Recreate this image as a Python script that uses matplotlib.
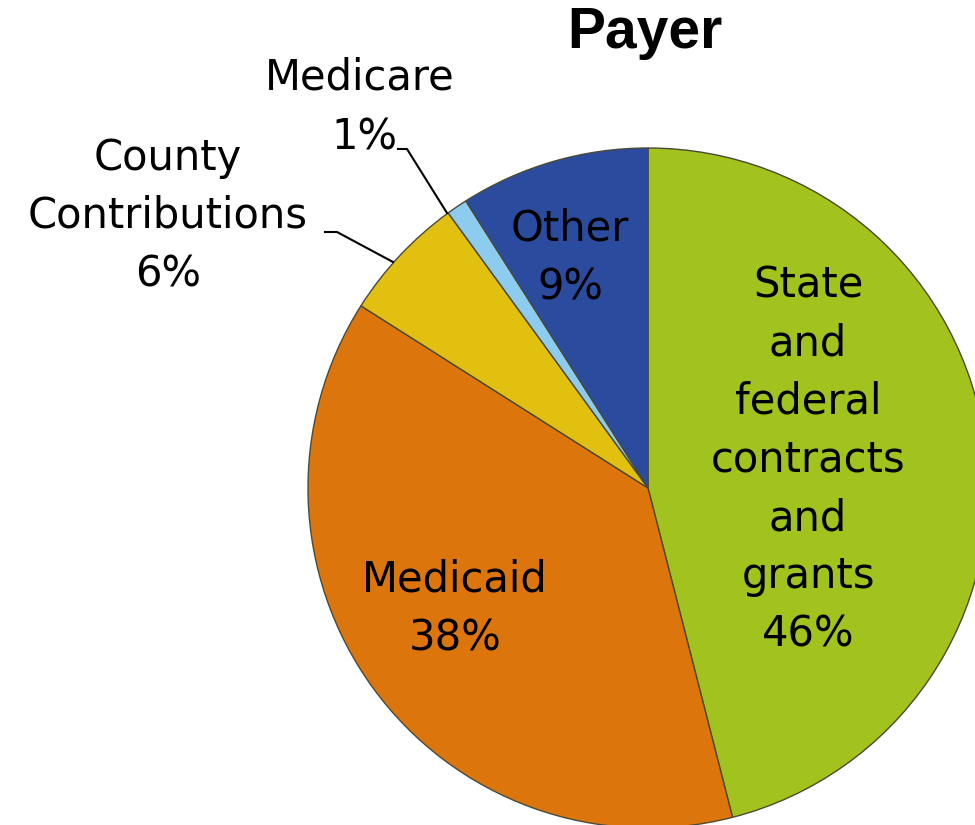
import numpy as np
import matplotlib
matplotlib.use("Agg")
import matplotlib.pyplot as plt

# payer shares, clockwise from 12 o'clock
labels = ["State\nand\nfederal\ncontracts\nand\ngrants", "Medicaid", "County\nContributions", "Medicare", "Other"]
shares = [46, 38, 6, 1, 9]
colors = ["#A2C21E", "#DC760C", "#E2C010", "#8DCBEF", "#2B4B9E"]

W, H = 975, 825
fig = plt.figure(figsize=(W / 100, H / 100), dpi=100)
ax = fig.add_axes([0, 0, 1, 1])

cx, cy, r = 648, H - 488, 340
wedges, _ = ax.pie(shares, colors=colors, startangle=90, counterclock=False,
                   center=(cx, cy), radius=r,
                   wedgeprops=dict(edgecolor="#4a4a3a", linewidth=1.0))
ax.set_xlim(0, W)
ax.set_ylim(0, H)
ax.set_aspect("equal")
ax.axis("off")

font = "DejaVu Sans"
fs = 30

def txt(x, y, s, **kw):
    ax.text(x, H - y, s, ha="center", va="center", fontsize=fs, family=font,
            linespacing=1.49, **kw)

# inside labels
txt(808, 460, labels[0] + "\n" + f"{shares[0]}%")
txt(455, 609, labels[1] + "\n" + f"{shares[1]}%")
txt(570, 258, labels[4] + "\n" + f"{shares[4]}%")

# outside labels with leader lines
txt(168, 216, labels[2] + "\n" + f"{shares[2]}%")
txt(360, 77, labels[3])
txt(364, 137, f"{shares[3]}%")

ax.plot([325, 337, 393], [H - 232, H - 232, H - 262], color="black", lw=1.5)
ax.plot([398, 407, 447], [H - 149, H - 149, H - 213], color="black", lw=1.5)

ax.text(645, H - 33, "Payer", ha="center", va="center", fontsize=41,
        fontweight="bold", family="Liberation Sans")

fig.savefig("out.png", dpi=100)
